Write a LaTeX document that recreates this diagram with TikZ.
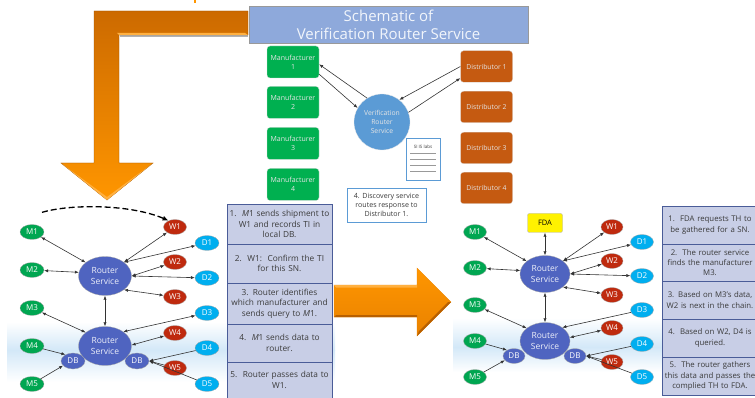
\documentclass[tikz,border=0pt]{standalone}
\usepackage{fontspec}
\setmainfont{Open Sans}
\usetikzlibrary{shapes.geometric,arrows.meta}
\definecolor{grn}{HTML}{00A651}
\definecolor{redw}{HTML}{BF2A0E}
\definecolor{cyand}{HTML}{00AEEF}
\definecolor{rout}{HTML}{4F64C0}
\definecolor{tbl}{HTML}{C8CEE6}
\definecolor{tbline}{HTML}{4A5C98}
\definecolor{ttl}{HTML}{8EA9DB}
\definecolor{mgrn}{HTML}{00B050}
\definecolor{dist}{HTML}{C55A11}
\definecolor{vrs}{HTML}{5B9BD5}
\definecolor{glow}{HTML}{D3E8F8}
\definecolor{txtc}{HTML}{3A3A3A}
\definecolor{orA}{HTML}{CC6A00}
\definecolor{orB}{HTML}{FF9600}
\definecolor{orC}{HTML}{E98200}
\definecolor{orHi}{HTML}{FFB040}
\definecolor{orLo}{HTML}{B86000}
\tikzset{
  ell/.style={ellipse,inner sep=0pt,text=white,font=\fontsize{8}{9}\selectfont,draw=black!35,line width=.3pt},
  mnode/.style={ell,fill=grn,minimum width=24pt,minimum height=15pt},
  wnode/.style={ell,fill=redw,minimum width=23pt,minimum height=15pt},
  dnode/.style={ell,fill=cyand,minimum width=24pt,minimum height=15pt},
  dbnode/.style={ell,fill=rout,minimum width=24pt,minimum height=16pt},
  routerL/.style={ell,fill=rout,minimum width=53pt,minimum height=39pt,align=center,font=\fontsize{8.5}{10.5}\selectfont,text=white!90!rout},
  routerR/.style={ell,fill=rout,minimum width=50pt,minimum height=37pt,align=center,font=\fontsize{8.5}{10.5}\selectfont,text=white!90!rout},
  both/.style={{Latex[length=4pt,width=3.2pt]}-{Latex[length=4pt,width=3.2pt]},line width=.6pt,draw=black!80},
  tohead/.style={-{Latex[length=4pt,width=3.2pt]},line width=.6pt,draw=black!80},
  box/.style={rounded corners=3pt,minimum width=52pt,inner sep=0pt,text=white!90!black,align=center},
  mbox/.style={box,fill=mgrn,minimum height=32pt,draw=black!15,line width=.3pt,font=\fontsize{7}{9.3}\selectfont},
  dbox/.style={box,fill=dist,minimum height=31.5pt,draw=black!15,line width=.3pt,font=\fontsize{6.8}{9.3}\selectfont},
  cell/.style={draw=tbline,fill=tbl,line width=.7pt,inner sep=0pt,align=center,text=txtc},
  lcell/.style={cell,minimum width=105pt,text width=104pt,font=\fontsize{8.3}{10.4}\selectfont},
  rcell/.style={cell,minimum width=96pt,text width=96pt,font=\fontsize{7.8}{10.4}\selectfont},
}
\begin{document}
\begin{tikzpicture}[x=1pt,y=-1pt]
\useasboundingbox (0,0) rectangle (755,398);
\clip (0,0) rectangle (755,398);
% glow bands
\shade[top color=white,bottom color=glow] (7,322) rectangle (335,350);
\shade[top color=glow,bottom color=white] (7,350) rectangle (335,382);
\shade[top color=white,bottom color=glow] (453,318) rectangle (755,347);
\shade[top color=glow,bottom color=white] (453,347) rectangle (755,372);
% orange stray mark
\fill[orB] (194,0) rectangle (196,3);
% L arrow
\fill[black!30] (120,37) -- (248,37) -- (248,35) -- (120,35) -- cycle;
\shade[top color=orA,bottom color=orB,draw=black!25!orA,line width=.4pt]
  (94,11) -- (248,11) -- (248,35) -- (119,35) -- (119,163) -- (153,163) -- (107,200) -- (61,163) -- (94,163) -- cycle;
\fill[orHi] (117,33) -- (245,33) -- (248,35) -- (119,35) -- cycle;
\fill[orHi] (61,163) -- (107,200) -- (153,163) -- (107,197) -- cycle;
% right arrow
\shade[top color=orB,bottom color=orC,draw=orC,line width=.3pt]
  (334,285) -- (417,285) -- (417,268) -- (451,302) -- (417,336) -- (417,317) -- (334,317) -- cycle;
\fill[orHi] (334,285) -- (417,285) -- (417,287.5) -- (336,287.5) -- cycle;
\fill[orLo] (336,315) -- (417,315) -- (417,317) -- (334,317) -- cycle;
\fill[orLo] (417,336) -- (451,302) -- (448,302) -- (419,331) -- cycle;
% title
\node[draw=black!40,line width=.5pt,fill=ttl,minimum width=279pt,minimum height=37pt,inner sep=0pt,align=center,text=white!88!ttl,font=\fontsize{15}{18}\selectfont] (title) at (388.5,24.5) {Schematic of\\Verification Router Service};
% manufacturers
\node[mbox] (man1) at (293,62) {Manufacturer\\1};
\node[mbox] (man2) at (293,102.5) {Manufacturer\\2};
\node[mbox] (man3) at (293,143.5) {Manufacturer\\3};
\node[mbox] (man4) at (293,184.5) {Manufacturer\\4};
\node[dbox] (dis1) at (486.5,66.5) {Distributor 1};
\node[dbox] (dis2) at (486.5,107) {Distributor 2};
\node[dbox] (dis3) at (486.5,148) {Distributor 3};
\node[dbox] (dis4) at (486.5,188) {Distributor 4};
\node[circle,fill=vrs,draw=black!10,line width=.3pt,minimum size=56pt,inner sep=0pt,align=center,text=white!90!black,font=\fontsize{6.8}{9.3}\selectfont] (vrs) at (382,122) {Verification\\Router\\Service};
\draw[tohead] (vrs.122) -- (man1.-5);
\draw[tohead] (man1.-25) -- (vrs.150);
\draw[tohead] (dis1.west) -- (vrs.52);
\draw[tohead] (vrs.20) -- (dis1.-156);
% document
\node[draw=vrs,fill=white,line width=.6pt,minimum width=34pt,minimum height=42pt,inner sep=0pt] (doc) at (423,159) {};
\node[inner sep=0pt,text=txtc,font=\fontsize{4.5}{5}\selectfont] (doctext) at (423,147) {SI IS labs};
\foreach \yy in {153,159,165,171}{\draw[black!40,line width=.6pt] (410,\yy) -- (436,\yy);}
% discovery
\node[draw=vrs,fill=white,line width=.6pt,minimum width=79pt,minimum height=34pt,inner sep=0pt,align=center,text=txtc,font=\fontsize{7.1}{9.3}\selectfont] (disc) at (386.5,205) {4. Discovery service\\routes response to\\Distributor 1.};
% left table
\node[lcell,minimum height=40pt] (l1) at (279.5,224) {1.\ \ \textit{M}1 sends shipment to\\W1 and records TI in\\local DB.};
\node[lcell,minimum height=39pt] (l2) at (279.5,263.5) {2.\ \ W1:\ \ Confirm the TI\\for this SN.};
\node[lcell,minimum height=41pt] (l3) at (279.5,303.5) {3. Router identifies\\which manufacturer and\\sends query to \textit{M}1.};
\node[lcell,minimum height=38pt] (l4) at (279.5,343) {4.\ \ \textit{M}1 sends data to\\router.};
\node[lcell,minimum height=36pt] (l5) at (279.5,380) {5.\ \ Router passes data to\\W1.};
% right table
\node[rcell,minimum height=38pt] (r1) at (710,225) {1.\ \ FDA requests TH to\\be gathered for a SN.};
\node[rcell,minimum height=37pt] (r2) at (710,262.5) {2.\ \ The router service\\finds the manufacturer\\M3.};
\node[rcell,minimum height=38pt] (r3) at (710,300) {3. Based on M3's data,\\W2 is next in the chain.};
\node[rcell,minimum height=38pt] (r4) at (710,338) {4.\ \ Based on W2, D4 is\\queried.};
\node[rcell,minimum height=38pt] (r5) at (710,376) {5.\ \ The router gathers\\this data and passes the\\complied TH to FDA.};
% left network
\node[routerL] (R1) at (105,276) {Router\\Service};
\node[routerL] (R2) at (105,346) {Router\\Service};
\node[dbnode] (DBa) at (73,361) {DB};
\node[dbnode] (DBb) at (137,361) {DB};
\node[mnode] (M1) at (32,232) {M1};
\node[mnode] (M2) at (32,270) {M2};
\node[mnode] (M3) at (32,308) {M3};
\node[mnode] (M4) at (32,346) {M4};
\node[mnode] (M5) at (32,384) {M5};
\node[wnode] (W1) at (175,227) {W1};
\node[wnode] (W2) at (175,262) {W2};
\node[wnode] (W3) at (175,297) {W3};
\node[wnode] (W4) at (175,333) {W4};
\node[wnode] (W5) at (175,368) {W5};
\node[dnode] (D1) at (207,243) {D1};
\node[dnode] (D2) at (207,278) {D2};
\node[dnode] (D3) at (207,313) {D3};
\node[dnode] (D4) at (207,348) {D4};
\node[dnode] (D5) at (207,384) {D5};
\draw[both] (M1) -- (R1.145);
\draw[both] (M2) -- (R1.172);
\draw[both] (W1) -- (R1.36);
\draw[both] (D1) -- (R1.36);
\draw[both] (W2) -- (R1.east);
\draw[both] (D2) -- (R1.east);
\draw[both] (W3) -- (R1.-36);
\draw[both] (R1) -- (R2);
\draw[both] (M3) -- (R2.145);
\draw[both] (D3) -- (R2.38);
\draw[both] (W4) -- (R2.2);
\draw[tohead] (M4) -- (DBa.140);
\draw[tohead] (M5) -- (DBa.205);
\draw[tohead] (D4) -- (DBb.east);
\draw[tohead] (W5) -- (DBb.east);
\draw[tohead] (D5) -- (DBb.east);
\draw[-{Latex[length=6pt,width=5pt]},dash pattern=on 6pt off 3pt,line width=1.3pt,black] (M1.north) ++(10,-12) .. controls (70,204) and (130,204) .. (W1.135);
% right network
\node[routerR] (RR1) at (545,274) {Router\\Service};
\node[routerR] (RR2) at (545,341) {Router\\Service};
\node[dbnode,minimum width=22pt,minimum height=15pt] (DDa) at (514,356) {DB};
\node[dbnode,minimum width=22pt,minimum height=15pt] (DDb) at (575,356) {DB};
\node[mnode,minimum width=23pt] (MM1) at (475,232) {M1};
\node[mnode,minimum width=23pt] (MM2) at (475,268) {M2};
\node[mnode,minimum width=23pt] (MM3) at (475,305) {M3};
\node[mnode,minimum width=23pt] (MM4) at (475,341) {M4};
\node[mnode,minimum width=23pt] (MM5) at (475,377) {M5};
\node[wnode,minimum width=22pt] (WW1) at (612,227) {W1};
\node[wnode,minimum width=22pt] (WW2) at (612,261) {W2};
\node[wnode,minimum width=22pt] (WW3) at (612,295) {W3};
\node[wnode,minimum width=22pt] (WW4) at (612,328) {W4};
\node[wnode,minimum width=22pt] (WW5) at (612,362) {W5};
\node[dnode,minimum width=23pt] (DD1) at (642,242) {D1};
\node[dnode,minimum width=23pt] (DD2) at (642,276) {D2};
\node[dnode,minimum width=23pt] (DD3) at (642,310) {D3};
\node[dnode,minimum width=23pt] (DD4) at (642,344) {D4};
\node[dnode,minimum width=23pt] (DD5) at (642,377) {D5};
\node[draw=black!30,fill=yellow,rounded corners=2pt,minimum width=35pt,minimum height=19pt,inner sep=0pt,font=\fontsize{7.5}{9}\selectfont] (FDA) at (545,223) {FDA};
\draw[both] (FDA) -- (RR1);
\draw[both] (MM1) -- (RR1.145);
\draw[both] (MM2) -- (RR1.172);
\draw[both] (WW1) -- (RR1.36);
\draw[both] (DD1) -- (RR1.36);
\draw[both] (WW2) -- (RR1.east);
\draw[both] (DD2) -- (RR1.east);
\draw[both] (WW3) -- (RR1.-36);
\draw[both] (RR1) -- (RR2);
\draw[both] (MM3) -- (RR2.145);
\draw[tohead] (DD3) -- (RR2.38);
\draw[both] (WW4) -- (RR2.8);
\draw[tohead] (MM4) -- (DDa.140);
\draw[tohead] (MM5) -- (DDa.205);
\draw[tohead] (DD4) -- (DDb.east);
\draw[tohead] (WW5) -- (DDb.east);
\draw[tohead] (DD5) -- (DDb.east);
\end{tikzpicture}
\end{document}
